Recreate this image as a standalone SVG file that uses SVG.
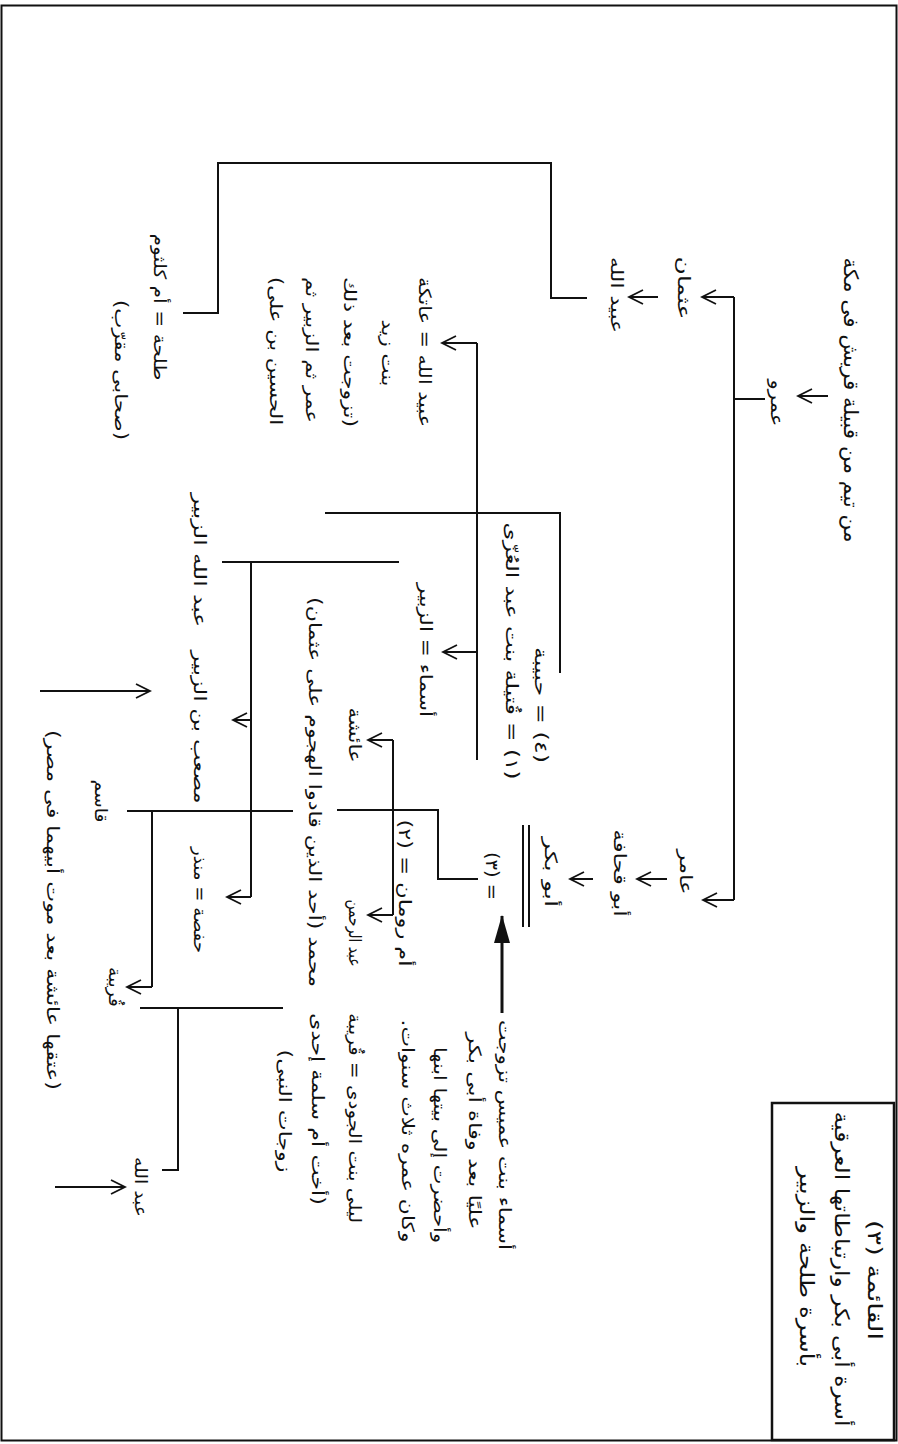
<svg xmlns="http://www.w3.org/2000/svg" width="898" height="1444" viewBox="0 0 898 1444">
<defs>
<style>
.t{font-family:"DejaVu Sans",sans-serif;font-size:17px;fill:#111;direction:rtl;text-anchor:middle;dominant-baseline:central}
.ti{font-size:20px}
.ln{fill:none;stroke:#111;stroke-width:2}
.ar{fill:none;stroke:#111;stroke-width:2;marker-end:url(#arr)}
</style>
<marker id="arr" viewBox="0 0 18 18" markerWidth="18" markerHeight="18" refX="16" refY="9" orient="auto" markerUnits="userSpaceOnUse">
<path d="M2,2 L16,9 L2,16" fill="none" stroke="#111" stroke-width="1.8"/>
</marker>
<marker id="big" viewBox="0 0 28 18" markerWidth="28" markerHeight="18" refX="27" refY="9" orient="auto" markerUnits="userSpaceOnUse">
<path d="M0,1 L28,9 L0,17 Z" fill="#111"/>
</marker>
</defs>
<rect x="0" y="0" width="898" height="1444" fill="#fff"/>
<rect x="1.5" y="5.5" width="895" height="1435" fill="none" stroke="#111" stroke-width="2"/>

<g id="title">
<rect x="772" y="1103" width="122" height="337" fill="none" stroke="#111" stroke-width="2.5"/>
<text class="t ti" transform="translate(875,1280) rotate(90)" textLength="120" lengthAdjust="spacingAndGlyphs">القائمة (٣)</text>
<text class="t ti" transform="translate(842,1269) rotate(90)" textLength="315" lengthAdjust="spacingAndGlyphs">أسرة أبى بكر وارتباطاتها العرقية</text>
<text class="t ti" transform="translate(807,1267) rotate(90)" textLength="200" lengthAdjust="spacingAndGlyphs">بأسرة طلحة والزبير</text>
</g>

<g id="connectors">
<line class="ar" x1="828" y1="396" x2="798" y2="396"/>
<polyline class="ln" points="765,399 734,399"/>
<line class="ln" x1="734" y1="297" x2="734" y2="900"/>
<line class="ar" x1="734" y1="297" x2="702" y2="297"/>
<line class="ar" x1="734" y1="900" x2="703" y2="900"/>
<line class="ar" x1="658" y1="297" x2="629" y2="297"/>
<polyline class="ln" points="587,298 551,298 551,163 218,163 218,313 183,313"/>
<line class="ar" x1="667" y1="879" x2="637" y2="879"/>
<line class="ar" x1="593" y1="879" x2="570" y2="879"/>
<line class="ln" x1="523" y1="825" x2="523" y2="927"/>
<line class="ln" x1="529" y1="825" x2="529" y2="927"/>
<polyline class="ln" points="478,879 438,879 438,810 337,810"/>
<line class="ln" x1="293" y1="811" x2="127" y2="811"/>
<line class="ln" x1="152" y1="811" x2="152" y2="987"/>
<line class="ar" x1="152" y1="987" x2="127" y2="987"/>
<line class="ln" x1="393" y1="740" x2="393" y2="915"/>
<line class="ar" x1="393" y1="740" x2="368" y2="740"/>
<line class="ar" x1="393" y1="915" x2="368" y2="915"/>
<line class="ln" x1="477" y1="343" x2="477" y2="760"/>
<line class="ar" x1="477" y1="343" x2="442" y2="343"/>
<line class="ar" x1="477" y1="652" x2="443" y2="652"/>
<polyline class="ln" points="560,673 560,513 325,513"/>
<line class="ln" x1="399" y1="562" x2="222" y2="562"/>
<line class="ln" x1="251" y1="562" x2="251" y2="897"/>
<line class="ar" x1="251" y1="720" x2="233" y2="720"/>
<line class="ar" x1="251" y1="897" x2="227" y2="897"/>
<line class="ln" x1="283" y1="1008" x2="140" y2="1008"/>
<polyline class="ln" points="178,1008 178,1170 162,1170"/>
<line class="ar" x1="40" y1="691" x2="150" y2="691"/>
<line class="ar" x1="55" y1="1187" x2="125" y2="1187"/>
<line x1="502" y1="1013" x2="502" y2="916" stroke="#111" stroke-width="3" marker-end="url(#big)"/>
</g>

<g id="root"><text class="t ti" transform="translate(851,400) rotate(90)" textLength="285" lengthAdjust="spacingAndGlyphs">من تيم من قبيلة قريش فى مكة</text></g>
<g id="amr"><text class="t" transform="translate(777,403) rotate(90)" textLength="47" lengthAdjust="spacingAndGlyphs">عمرو</text></g>
<g id="uthman"><text class="t" transform="translate(684,288) rotate(90)" textLength="63" lengthAdjust="spacingAndGlyphs">عثمان</text></g>
<g id="ubaydullah"><text class="t" transform="translate(617,295) rotate(90)" textLength="76" lengthAdjust="spacingAndGlyphs">عبيد الله</text></g>
<g id="amir"><text class="t" transform="translate(686,872) rotate(90)" textLength="45" lengthAdjust="spacingAndGlyphs">عامر</text></g>
<g id="abuquhafa"><text class="t" transform="translate(620,873) rotate(90)" textLength="87" lengthAdjust="spacingAndGlyphs">أبو قحافة</text></g>
<g id="abubakr"><text class="t" transform="translate(551,872) rotate(90)" textLength="70" lengthAdjust="spacingAndGlyphs">أبو بكر</text></g>
<g id="wife3"><text class="t" transform="translate(492,876) rotate(90)" textLength="48" lengthAdjust="spacingAndGlyphs">= (٣)</text></g>
<g id="wife4"><text class="t" transform="translate(541,705) rotate(90)" textLength="116" lengthAdjust="spacingAndGlyphs">(٤) = حبيبة</text></g>
<g id="wife1"><text class="t" transform="translate(512,651) rotate(90)" textLength="257" lengthAdjust="spacingAndGlyphs">(١) = قُتيلة بنت عبد العُزّى</text></g>
<g id="atika">
<text class="t" transform="translate(425,352) rotate(90)" textLength="150" lengthAdjust="spacingAndGlyphs">عبيد الله = عاتكة</text>
<text class="t" transform="translate(388,353) rotate(90)" textLength="67" lengthAdjust="spacingAndGlyphs">بنت زيد</text>
<text class="t" transform="translate(350,352) rotate(90)" textLength="150" lengthAdjust="spacingAndGlyphs">(تزوجت بعد ذلك</text>
<text class="t" transform="translate(312,350) rotate(90)" textLength="146" lengthAdjust="spacingAndGlyphs">عمر ثم الزبير ثم</text>
<text class="t" transform="translate(276,351) rotate(90)" textLength="148" lengthAdjust="spacingAndGlyphs">الحسين بن على)</text>
</g>
<g id="talha">
<text class="t" transform="translate(160,307) rotate(90)" textLength="147" lengthAdjust="spacingAndGlyphs">طلحة = أم كلثوم</text>
<text class="t" transform="translate(121,370) rotate(90)" textLength="140" lengthAdjust="spacingAndGlyphs">(صحابى مقرّب)</text>
</g>
<g id="asma"><text class="t" transform="translate(426,650) rotate(90)" textLength="134" lengthAdjust="spacingAndGlyphs">أسماء = الزبير</text></g>
<g id="aisha"><text class="t" transform="translate(355,735) rotate(90)" textLength="55" lengthAdjust="spacingAndGlyphs">عائشة</text></g>
<g id="wife2"><text class="t" transform="translate(405,893) rotate(90)" textLength="147" lengthAdjust="spacingAndGlyphs">أم رومان = (٢)</text></g>
<g id="abdrahman"><text class="t" transform="translate(355,933) rotate(90)" textLength="67" lengthAdjust="spacingAndGlyphs">عبد الرحمن</text></g>
<g id="muhammad"><text class="t" transform="translate(315,792) rotate(90)" textLength="390" lengthAdjust="spacingAndGlyphs">محمد (أحد الذين قادوا الهجوم على عثمان)</text></g>
<g id="layla">
<text class="t" transform="translate(355,1118) rotate(90)" textLength="210" lengthAdjust="spacingAndGlyphs">ليلى بنت الجودى = قُريبة</text>
<text class="t" transform="translate(318,1109) rotate(90)" textLength="192" lengthAdjust="spacingAndGlyphs">(أخت أم سلمة إحدى</text>
<text class="t" transform="translate(285,1111) rotate(90)" textLength="123" lengthAdjust="spacingAndGlyphs">زوجات النبى)</text>
</g>
<g id="asmanote">
<text class="t" transform="translate(505,1135) rotate(90)" textLength="230" lengthAdjust="spacingAndGlyphs">أسماء بنت عميس تزوجت</text>
<text class="t" transform="translate(475,1131) rotate(90)" textLength="197" lengthAdjust="spacingAndGlyphs">عليًا بعد وفاة أبى بكر</text>
<text class="t" transform="translate(440,1145) rotate(90)" textLength="196" lengthAdjust="spacingAndGlyphs">وأحضرت إلى بيتها ابنها</text>
<text class="t" transform="translate(408,1131) rotate(90)" textLength="223" lengthAdjust="spacingAndGlyphs">وكان عمره ثلاث سنوات.</text>
</g>
<g id="abdullahzubayr"><text class="t" transform="translate(200,560) rotate(90)" textLength="134" lengthAdjust="spacingAndGlyphs">عبد الله الزبير</text></g>
<g id="musab"><text class="t" transform="translate(200,727) rotate(90)" textLength="153" lengthAdjust="spacingAndGlyphs">مصعب بن الزبير</text></g>
<g id="hafsa"><text class="t" transform="translate(200,900) rotate(90)" textLength="106" lengthAdjust="spacingAndGlyphs">حفصة = منذر</text></g>
<g id="qasim"><text class="t" transform="translate(101,801) rotate(90)" textLength="43" lengthAdjust="spacingAndGlyphs">قاسم</text></g>
<g id="qurayba"><text class="t" transform="translate(115,987) rotate(90)" textLength="40" lengthAdjust="spacingAndGlyphs">قُريبة</text></g>
<g id="abdullah2"><text class="t" transform="translate(141,1187) rotate(90)" textLength="60" lengthAdjust="spacingAndGlyphs">عبد الله</text></g>
<g id="note"><text class="t" transform="translate(53,910) rotate(90)" textLength="360" lengthAdjust="spacingAndGlyphs">(عتقها عائشة بعد موت أبيهما فى مصر)</text></g>
</svg>
